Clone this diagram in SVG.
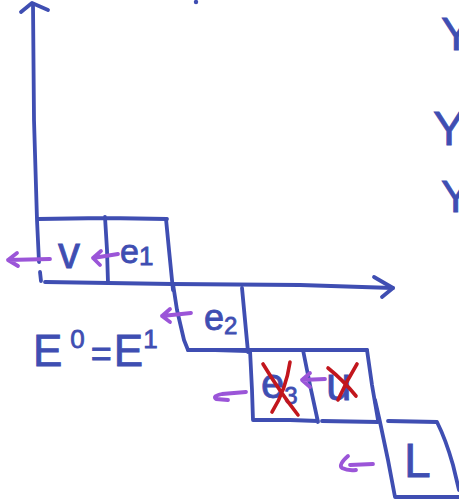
<svg xmlns="http://www.w3.org/2000/svg" width="459" height="502" viewBox="0 0 459 502">
<style>
.b{fill:none;stroke:#3f4eb2;stroke-width:3.8;stroke-linecap:round;stroke-linejoin:round}
.p{fill:none;stroke:#9b55d8;stroke-width:3.8;stroke-linecap:round;stroke-linejoin:round}
.r{fill:none;stroke:#c2161d;stroke-width:3.6;stroke-linecap:round;stroke-linejoin:round}
.t{fill:#3f4eb2;stroke:#3f4eb2;stroke-width:0.8;font-family:"Liberation Sans",Arial,sans-serif}
</style>
<rect width="459" height="502" fill="#ffffff"/>
<g id="axes">
<path class="b" d="M33,4 L34,120 L37,220 L39,262 M40,272 L41,281"/>
<path class="b" d="M21,12 L32,3 L48,10"/>
<path class="b" d="M45,282 L172,284 L300,285 L393,288"/>
<path class="b" d="M374,277 L393,288 L382,297"/>
<circle cx="196" cy="2" r="2.2" fill="#3f4eb2"/>
</g>
<g id="node-v">
<path class="b" d="M38,219 L105,218 L167,219 M105,217 L107,250 L108,283"/>
<text class="t" x="58" y="268" font-size="44">v</text>
</g>
<g id="node-e1">
<path class="b" d="M166,219 L169,250 L173,290"/>
<text class="t" x="120" y="263" font-size="34">e<tspan font-size="26" dy="2">1</tspan></text>
</g>
<g id="node-e2">
<path class="b" d="M173,284 L177,310 L184,340 L188,350 L215,350 L248,351 M242,288 L245,320 L248,352"/>
<text class="t" x="204" y="330" font-size="36">e<tspan font-size="24" dy="4">2</tspan></text>
</g>
<g id="node-e3">
<path class="b" d="M188,350 L250,350 L303,350 L367,350 M250,350 L252,390 L253,420 L290,420 L318,421 M303,350 L310,385 L318,422"/>
<text class="t" x="261" y="398" font-size="42">e<tspan font-size="24" dy="6">3</tspan></text>
<path class="r" d="M263,364 Q280,392 298,415 M290,362 Q286,390 272,412"/>
</g>
<g id="node-u">
<path class="b" d="M367,350 L372,385 L378,420 M322,421 L378,422"/>
<text class="t" x="326" y="400" font-size="46">u</text>
<path class="r" d="M328,368 Q343,380 356,396 M357,364 Q346,382 338,400"/>
</g>
<g id="node-L">
<path class="b" d="M375,400 L380,422 L388,460 L395,497 L459,497 M388,421 L437,422 Q446,440 453,465 L459,490"/>
<text class="t" x="404" y="477" font-size="48">L</text>
</g>
<g id="label">
<text class="t" x="33" y="366" font-size="44">E<tspan font-size="26" dy="-18" dx="8">0</tspan><tspan font-size="36" dy="18" dx="6">=</tspan><tspan font-size="44" dx="2">E</tspan><tspan font-size="26" dy="-18">1</tspan></text>
</g>
<g id="marks">
<text class="t" x="441" y="50" font-size="46">Y</text>
<text class="t" x="433" y="145" font-size="48">Y</text>
<text class="t" x="441" y="212" font-size="44">Y</text>
</g>
<g id="connectors">
<path class="p" d="M50,259 L8,260 M17,253 L8,260 L18,266"/>
<path class="p" d="M118,254 L93,258 M101,251 L93,258 L100,265"/>
<path class="p" d="M191,313 L162,316 M170,309 L162,316 L170,322"/>
<path class="p" d="M246,392 L222,394 Q212,396 216,399 L228,400"/>
<path class="p" d="M325,379 L302,380 M310,373 L302,380 L310,387"/>
<path class="p" d="M373,464 L350,465 M348,456 Q338,465 342,468 Q348,471 356,470"/>
</g>
</svg>
